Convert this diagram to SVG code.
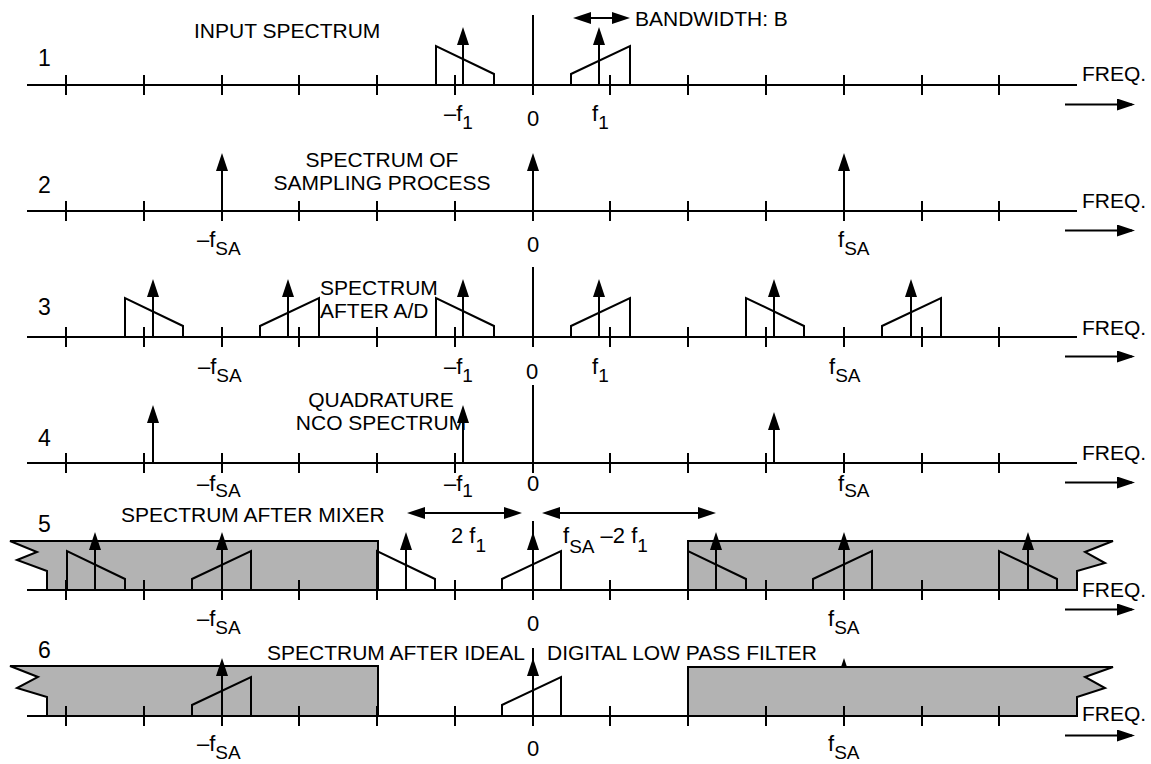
<svg xmlns="http://www.w3.org/2000/svg" xmlns:xlink="http://www.w3.org/1999/xlink" width="1151" height="764" viewBox="0 0 1151 764">
<style>
text{font-family:"Liberation Sans",Arial,Helvetica,sans-serif;font-size:21px;fill:#000}
.lb{font-size:22px}
.num{font-size:23px}
.sub{font-size:19px}
.ln{fill:none;stroke:#000;stroke-width:2}
.gray{fill:#b3b3b3;stroke:#000;stroke-width:2;stroke-linejoin:miter}
</style>
<defs>
<marker id="ah" viewBox="0 0 18 12" refX="15" refY="6" markerWidth="18" markerHeight="12" markerUnits="userSpaceOnUse" orient="auto-start-reverse"><path d="M0,0L18,6L0,12z" fill="#000"/></marker>
<path id="axis" class="ln" d="M27,0H1077"/>
<path id="ticks" class="ln" d="M66,-10V10M144,-10V10M222,-10V10M299,-10V10M377,-10V10M455,-10V10M533,-10V10M610,-10V10M688,-10V10M766,-10V10M844,-10V10M922,-10V10M999,-10V10"/>
<path id="farr" class="ln" d="M1065,19.5H1132" marker-end="url(#ah)"/>
<path id="dn" class="ln" d="M0,0V-39L58,-11V0"/>
<path id="up" class="ln" d="M0,0V-11L59,-39V0"/>
<path id="ar" class="ln" d="M0,0V-55" marker-end="url(#ah)"/>
</defs>

<g id="row1" transform="translate(0,85)">
<use xlink:href="#axis"/><use xlink:href="#ticks"/><use xlink:href="#farr"/>
<path class="ln" d="M533,-70V0"/>
<use xlink:href="#dn" x="436"/><use xlink:href="#ar" x="463"/>
<use xlink:href="#up" x="571"/><use xlink:href="#ar" x="599"/>
<text class="num" x="38" y="-19">1</text>
<text x="194" y="-47">INPUT SPECTRUM</text>
<text x="635" y="-59">BANDWIDTH: B</text>
<text x="1082" y="-4">FREQ.</text>
<text class="lb" x="444" y="36">–f<tspan class="sub" dy="8">1</tspan></text>
<text class="lb" x="527" y="41">0</text>
<text class="lb" x="592" y="36">f<tspan class="sub" dy="8">1</tspan></text>
</g>

<g id="row2" transform="translate(0,211)">
<use xlink:href="#axis"/><use xlink:href="#ticks"/><use xlink:href="#farr"/>
<use xlink:href="#ar" x="222"/><use xlink:href="#ar" x="533"/><use xlink:href="#ar" x="844"/>
<text class="num" x="38" y="-18">2</text>
<text x="382" y="-44" text-anchor="middle">SPECTRUM OF</text>
<text x="382" y="-21" text-anchor="middle">SAMPLING PROCESS</text>
<text x="1082" y="-3">FREQ.</text>
<text class="lb" x="197" y="36">–f<tspan class="sub" dy="8">SA</tspan></text>
<text class="lb" x="527" y="41">0</text>
<text class="lb" x="838" y="36">f<tspan class="sub" dy="8">SA</tspan></text>
</g>

<g id="row3" transform="translate(0,337)">
<use xlink:href="#axis"/><use xlink:href="#ticks"/><use xlink:href="#farr"/>
<path class="ln" d="M533,-70V0"/>
<use xlink:href="#dn" x="125"/><use xlink:href="#ar" x="153"/>
<use xlink:href="#up" x="260"/><use xlink:href="#ar" x="288"/>
<use xlink:href="#dn" x="436"/><use xlink:href="#ar" x="463"/>
<use xlink:href="#up" x="571"/><use xlink:href="#ar" x="599"/>
<use xlink:href="#dn" x="746"/><use xlink:href="#ar" x="774"/>
<use xlink:href="#up" x="882"/><use xlink:href="#ar" x="911"/>
<text class="num" x="38" y="-22">3</text>
<text x="320" y="-42">SPECTRUM</text>
<text x="320" y="-19">AFTER A/D</text>
<text x="1082" y="-2">FREQ.</text>
<text class="lb" x="198" y="37">–f<tspan class="sub" dy="8">SA</tspan></text>
<text class="lb" x="444" y="37">–f<tspan class="sub" dy="8">1</tspan></text>
<text class="lb" x="526" y="42">0</text>
<text class="lb" x="592" y="37">f<tspan class="sub" dy="8">1</tspan></text>
<text class="lb" x="829" y="37">f<tspan class="sub" dy="8">SA</tspan></text>
</g>

<g id="row4" transform="translate(0,463)">
<use xlink:href="#axis"/><use xlink:href="#ticks"/><use xlink:href="#farr"/>
<path class="ln" d="M533,-78V0"/>
<use xlink:href="#ar" x="153"/><use xlink:href="#ar" x="463"/>
<path class="ln" d="M774,0V-48" marker-end="url(#ah)"/>
<text class="num" x="38" y="-17">4</text>
<text x="381" y="-56" text-anchor="middle">QUADRATURE</text>
<text x="381" y="-33" text-anchor="middle">NCO SPECTRUM</text>
<text x="1082" y="-3">FREQ.</text>
<text class="lb" x="197" y="28">–f<tspan class="sub" dy="6">SA</tspan></text>
<text class="lb" x="444" y="28">–f<tspan class="sub" dy="6">1</tspan></text>
<text class="lb" x="527" y="28">0</text>
<text class="lb" x="838" y="28">f<tspan class="sub" dy="6">SA</tspan></text>
</g>

<g id="row5" transform="translate(0,590)">
<polygon class="gray" points="10,-49 378,-49 378,0 47,0 47,-19 17,-30 37,-38"/>
<polygon class="gray" points="688,-49 1113,-49 1085,-38 1105,-27 1077,-19 1077,0 688,0"/>
<use xlink:href="#axis"/><use xlink:href="#ticks"/><use xlink:href="#farr"/>
<path class="ln" d="M533,-69V0"/>
<use xlink:href="#dn" x="67"/><use xlink:href="#ar" x="95"/>
<use xlink:href="#up" x="192"/><use xlink:href="#ar" x="222"/>
<use xlink:href="#dn" x="377"/><use xlink:href="#ar" x="406"/>
<use xlink:href="#up" x="502"/><use xlink:href="#ar" x="533"/>
<use xlink:href="#dn" x="688"/><use xlink:href="#ar" x="716"/>
<use xlink:href="#up" x="813"/><use xlink:href="#ar" x="844"/>
<use xlink:href="#dn" x="999"/><use xlink:href="#ar" x="1028"/>
<text class="num" x="38" y="-58">5</text>
<text x="121" y="-68">SPECTRUM AFTER MIXER</text>
<text class="lb" x="451" y="-47">2 f<tspan class="sub" dy="9">1</tspan></text>
<text class="lb" x="563" y="-47">f<tspan class="sub" dy="10">SA</tspan><tspan dy="-10"> –2 f</tspan><tspan class="sub" dy="9">1</tspan></text>
<text x="1082" y="7">FREQ.</text>
<text class="lb" x="197" y="36">–f<tspan class="sub" dy="8">SA</tspan></text>
<text class="lb" x="527" y="41">0</text>
<text class="lb" x="828" y="36">f<tspan class="sub" dy="8">SA</tspan></text>
</g>

<g id="row6" transform="translate(0,716)">
<use xlink:href="#ar" x="844"/>
<polygon class="gray" points="10,-50 378,-50 378,0 47,0 47,-19 17,-28 38,-39"/>
<polygon class="gray" points="688,-49 1113,-49 1085,-39 1105,-28 1077,-19 1077,0 688,0"/>
<use xlink:href="#axis"/><use xlink:href="#ticks"/><use xlink:href="#farr"/>
<path class="ln" d="M533,-68V0"/>
<use xlink:href="#up" x="192"/><use xlink:href="#ar" x="222"/>
<use xlink:href="#up" x="502"/><use xlink:href="#ar" x="533"/>
<text class="num" x="38" y="-58">6</text>
<text x="267" y="-56">SPECTRUM AFTER IDEAL</text>
<text x="547" y="-56">DIGITAL LOW PASS FILTER</text>
<text x="1082" y="5">FREQ.</text>
<text class="lb" x="197" y="35">–f<tspan class="sub" dy="8">SA</tspan></text>
<text class="lb" x="527" y="40">0</text>
<text class="lb" x="828" y="35">f<tspan class="sub" dy="8">SA</tspan></text>
</g>

<g id="connectors">
<path class="ln" d="M576,18H627" marker-start="url(#ah)" marker-end="url(#ah)"/>
<path class="ln" d="M410,513H519" marker-start="url(#ah)" marker-end="url(#ah)"/>
<path class="ln" d="M545,513H713" marker-start="url(#ah)" marker-end="url(#ah)"/>
</g>
</svg>
